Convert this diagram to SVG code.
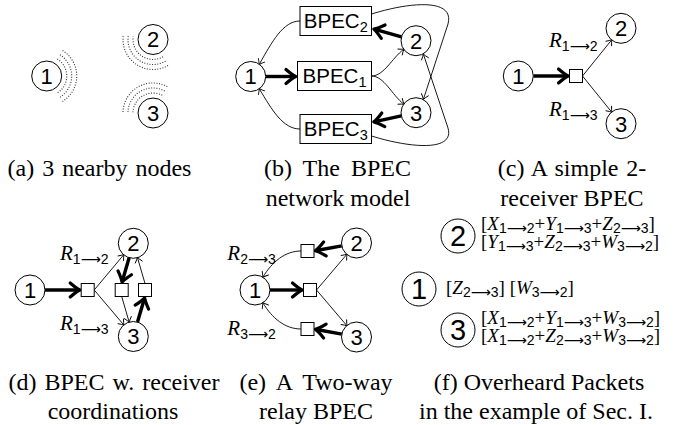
<svg xmlns="http://www.w3.org/2000/svg" width="689" height="425" viewBox="0 0 689 425">
<defs>
<style>
.nc{fill:#fff;stroke:#000;stroke-width:1}
.dg{font-family:"Liberation Sans",Arial,sans-serif;font-size:22px;text-anchor:middle}
.dgf{font-family:"Liberation Sans",Arial,sans-serif;font-size:29px;text-anchor:middle}
.cap{font-family:"Liberation Serif","Times New Roman",serif;font-size:24px;text-anchor:middle}
.thin{fill:none;stroke:#000;stroke-width:0.9;marker-end:url(#ah)}
.thick{fill:none;stroke:#000;stroke-width:3.4;marker-end:url(#ahb)}
.sq{fill:#fff;stroke:#000;stroke-width:1}
.box{fill:#fff;stroke:#000;stroke-width:1}
.bp{font-family:"Liberation Sans",Arial,sans-serif;font-size:20.5px;text-anchor:middle}
.bps{font-size:14.5px}
.dot{fill:none;stroke:#333;stroke-width:1.1;stroke-dasharray:1 1.6}
.lbl{font-family:"Liberation Serif","Times New Roman",serif;font-size:21px;font-style:italic}
.sb{font-family:"Liberation Sans",Arial,sans-serif;font-size:14px;font-style:normal}
.ar{font-family:"DejaVu Sans",sans-serif}
.mt{font-family:"Liberation Serif","Times New Roman",serif;font-size:19px}
.mi{font-style:italic}
.ms{font-family:"Liberation Sans",Arial,sans-serif;font-size:14px;font-style:normal}
</style>
<marker id="ah" markerUnits="userSpaceOnUse" markerWidth="12" markerHeight="12" refX="0" refY="0" orient="auto" overflow="visible">
<path d="M-4.5,-3.6 Q-1.5,-0.9 0.6,0 Q-1.5,0.9 -4.5,3.6" fill="none" stroke="#000" stroke-width="0.9" stroke-linecap="round"/>
</marker>
<marker id="ahb" markerUnits="userSpaceOnUse" markerWidth="20" markerHeight="20" refX="0" refY="0" orient="auto" overflow="visible">
<path d="M-8.5,-7 Q-2.5,-1.8 1.2,0 Q-2.5,1.8 -8.5,7" fill="none" stroke="#000" stroke-width="3.2" stroke-linecap="round" stroke-linejoin="round"/>
</marker>
</defs>
<rect width="689" height="425" fill="#fff"/>

<!-- (a) -->
<g id="a-arcs">
<path class="dot" d="M57.3,59 A20,20 0 0 1 57.3,93"/>
<path class="dot" d="M59.95,54.8 A25,25 0 0 1 59.95,97.2"/>
<path class="dot" d="M62.6,50.56 A30,30 0 0 1 62.6,101.44"/>
<path class="dot" d="M163,56.8 A20,20 0 0 1 133.2,36.7"/>
<path class="dot" d="M165.5,61.2 A25,25 0 0 1 128.25,36"/>
<path class="dot" d="M168,65.5 A30,30 0 0 1 123.3,35.3"/>
<path class="dot" d="M133,112.3 A20,20 0 0 1 163,95.7"/>
<path class="dot" d="M128,112.1 A25,25 0 0 1 165.5,91.35"/>
<path class="dot" d="M123,111.95 A30,30 0 0 1 168,87"/>
</g>
<g id="a-n1"><circle class="nc" cx="46.7" cy="76" r="15"/><text class="dg" x="46.7" y="83.8">1</text></g>
<g id="a-n2"><circle class="nc" cx="153" cy="39.5" r="15"/><text class="dg" x="153" y="47.3">2</text></g>
<g id="a-n3"><circle class="nc" cx="153" cy="113" r="15"/><text class="dg" x="153" y="120.8">3</text></g>
<text class="cap" x="99.5" y="176" word-spacing="2">(a) 3 nearby nodes</text>

<!-- (b) -->
<g id="b-edges">
<path class="thick" d="M266,76.5 L294.5,76.5"/>
<path class="thick" d="M401.5,36.8 L375,29.4"/>
<path class="thick" d="M401.3,115.8 L375,121.6"/>
<path class="thin" d="M371.5,76 C384,76 392,58 403.7,49.3"/>
<path class="thin" d="M371.5,76 C384,76 392,95 403.7,104.1"/>
<path class="thin" d="M300,21 C283,21 272,42 259.3,64.2"/>
<path class="thin" d="M300,129 C283,129 272,110 259.3,88.8"/>
<path class="thin" d="M371.5,14 C410,2 455,-2 448,24 L423.5,99"/>
<path class="thin" d="M371.5,136 C410,148 455,152 448,128 L423.5,54.5"/>
</g>
<g id="b-n1"><circle class="nc" cx="250.7" cy="76.5" r="15"/><text class="dg" x="250.7" y="84.3">1</text></g>
<g id="b-n2"><circle class="nc" cx="416" cy="40.7" r="15"/><text class="dg" x="416" y="48.5">2</text></g>
<g id="b-n3"><circle class="nc" cx="416" cy="112.7" r="15"/><text class="dg" x="416" y="120.5">3</text></g>
<g id="b-bpec2"><rect class="box" x="300" y="6.5" width="71.5" height="29"/><text class="bp" x="335.8" y="28.2">BPEC<tspan class="bps" dy="4">2</tspan></text></g>
<g id="b-bpec1"><rect class="box" x="297.5" y="61.5" width="74" height="29"/><text class="bp" x="334.5" y="83.2">BPEC<tspan class="bps" dy="4">1</tspan></text></g>
<g id="b-bpec3"><rect class="box" x="300" y="114.5" width="71.5" height="29"/><text class="bp" x="335.8" y="136.2">BPEC<tspan class="bps" dy="4">3</tspan></text></g>
<text class="cap" x="337.5" y="176" word-spacing="5">(b) The BPEC</text>
<text class="cap" x="338" y="206">network model</text>

<!-- (c) -->
<g id="c-edges">
<path class="thick" d="M533.5,76 L567,76"/>
<path class="thin" d="M582.5,76 L611.6,40"/>
<path class="thin" d="M582.5,76 L611.6,112"/>
</g>
<g id="c-n1"><circle class="nc" cx="518.3" cy="76" r="15"/><text class="dg" x="518.3" y="83.8">1</text></g>
<g id="c-n2"><circle class="nc" cx="621" cy="28.3" r="15"/><text class="dg" x="621" y="36.1">2</text></g>
<g id="c-n3"><circle class="nc" cx="621" cy="123.7" r="15"/><text class="dg" x="621" y="131.5">3</text></g>
<g id="c-sq"><rect class="sq" x="569.5" y="69.5" width="13" height="13"/></g>
<text class="lbl" x="549" y="46.5">R<tspan class="sb" dy="4">1<tspan class="ar">⟶</tspan>2</tspan></text>
<text class="lbl" x="549" y="116">R<tspan class="sb" dy="4">1<tspan class="ar">⟶</tspan>3</tspan></text>
<text class="cap" x="572" y="176" word-spacing="1.7">(c) A simple 2-</text>
<text class="cap" x="572" y="206">receiver BPEC</text>

<!-- (d) -->
<g id="d-edges">
<path class="thick" d="M45,290 L78.7,290"/>
<path class="thin" d="M94.2,290 L123.7,254.8"/>
<path class="thin" d="M94.2,290 L123.7,324.8"/>
<path class="thick" d="M129.1,257.7 L122.4,281"/>
<path class="thin" d="M121.7,296.5 L129.1,321.9"/>
<path class="thick" d="M137.5,321.9 L144.3,299"/>
<path class="thin" d="M145,283.5 L137.5,257.7"/>
</g>
<g id="d-n1"><circle class="nc" cx="30" cy="290" r="15"/><text class="dg" x="30" y="297.8">1</text></g>
<g id="d-n2"><circle class="nc" cx="133.3" cy="243.3" r="15"/><text class="dg" x="133.3" y="251.1">2</text></g>
<g id="d-n3"><circle class="nc" cx="133.3" cy="336.5" r="15"/><text class="dg" x="133.3" y="344.3">3</text></g>
<g id="d-sq1"><rect class="sq" x="81.2" y="283.5" width="13" height="13"/></g>
<g id="d-sq2"><rect class="sq" x="115.2" y="283.5" width="13" height="13"/></g>
<g id="d-sq3"><rect class="sq" x="138.5" y="283.5" width="13" height="13"/></g>
<text class="lbl" x="60" y="260">R<tspan class="sb" dy="4">1<tspan class="ar">⟶</tspan>2</tspan></text>
<text class="lbl" x="60" y="330">R<tspan class="sb" dy="4">1<tspan class="ar">⟶</tspan>3</tspan></text>
<text class="cap" x="114" y="390" word-spacing="2">(d) BPEC w. receiver</text>
<text class="cap" x="113" y="419">coordinations</text>

<!-- (e) -->
<g id="e-edges">
<path class="thick" d="M270,290 L301,290"/>
<path class="thin" d="M316.5,290 L346.8,254.4"/>
<path class="thin" d="M316.5,290 L346.8,325.6"/>
<path class="thick" d="M341.8,245.8 L316.5,250.5"/>
<path class="thick" d="M341.8,334.2 L316.5,329.5"/>
<path class="thin" d="M301,251 C285,251 272,262 263,277"/>
<path class="thin" d="M301,329 C285,329 272,318 263,303"/>
</g>
<g id="e-n1"><circle class="nc" cx="255" cy="290" r="15"/><text class="dg" x="255" y="297.8">1</text></g>
<g id="e-n2"><circle class="nc" cx="356.5" cy="243" r="15"/><text class="dg" x="356.5" y="250.8">2</text></g>
<g id="e-n3"><circle class="nc" cx="356.5" cy="337" r="15"/><text class="dg" x="356.5" y="344.8">3</text></g>
<g id="e-sqm"><rect class="sq" x="303.5" y="283.5" width="13" height="13"/></g>
<g id="e-sqt"><rect class="sq" x="301" y="244.5" width="13" height="13"/></g>
<g id="e-sqb"><rect class="sq" x="301" y="322.5" width="13" height="13"/></g>
<text class="lbl" x="227.3" y="260">R<tspan class="sb" dy="4">2<tspan class="ar">⟶</tspan>3</tspan></text>
<text class="lbl" x="227.3" y="335">R<tspan class="sb" dy="4">3<tspan class="ar">⟶</tspan>2</tspan></text>
<text class="cap" x="316" y="390" word-spacing="5">(e) A Two-way</text>
<text class="cap" x="316" y="419">relay BPEC</text>

<!-- (f) -->
<g id="f-n2"><circle class="nc" cx="458" cy="236" r="17"/><text class="dgf" x="458" y="246.3">2</text></g>
<g id="f-n1"><circle class="nc" cx="419" cy="289" r="17"/><text class="dgf" x="419" y="299.3">1</text></g>
<g id="f-n3"><circle class="nc" cx="458" cy="330" r="17"/><text class="dgf" x="458" y="340.3">3</text></g>
<text class="mt" x="481" y="230">[<tspan class="mi">X</tspan><tspan class="ms" dy="3">1<tspan class="ar">⟶</tspan>2</tspan><tspan dy="-3">+</tspan><tspan class="mi">Y</tspan><tspan class="ms" dy="3">1<tspan class="ar">⟶</tspan>3</tspan><tspan dy="-3">+</tspan><tspan class="mi">Z</tspan><tspan class="ms" dy="3">2<tspan class="ar">⟶</tspan>3</tspan><tspan dy="-3">]</tspan></text>
<text class="mt" x="481" y="248">[<tspan class="mi">Y</tspan><tspan class="ms" dy="3">1<tspan class="ar">⟶</tspan>3</tspan><tspan dy="-3">+</tspan><tspan class="mi">Z</tspan><tspan class="ms" dy="3">2<tspan class="ar">⟶</tspan>3</tspan><tspan dy="-3">+</tspan><tspan class="mi">W</tspan><tspan class="ms" dy="3">3<tspan class="ar">⟶</tspan>2</tspan><tspan dy="-3">]</tspan></text>
<text class="mt" x="446" y="294">[<tspan class="mi">Z</tspan><tspan class="ms" dy="3">2<tspan class="ar">⟶</tspan>3</tspan><tspan dy="-3">] [</tspan><tspan class="mi">W</tspan><tspan class="ms" dy="3">3<tspan class="ar">⟶</tspan>2</tspan><tspan dy="-3">]</tspan></text>
<text class="mt" x="481" y="324">[<tspan class="mi">X</tspan><tspan class="ms" dy="3">1<tspan class="ar">⟶</tspan>2</tspan><tspan dy="-3">+</tspan><tspan class="mi">Y</tspan><tspan class="ms" dy="3">1<tspan class="ar">⟶</tspan>3</tspan><tspan dy="-3">+</tspan><tspan class="mi">W</tspan><tspan class="ms" dy="3">3<tspan class="ar">⟶</tspan>2</tspan><tspan dy="-3">]</tspan></text>
<text class="mt" x="481" y="342">[<tspan class="mi">X</tspan><tspan class="ms" dy="3">1<tspan class="ar">⟶</tspan>2</tspan><tspan dy="-3">+</tspan><tspan class="mi">Z</tspan><tspan class="ms" dy="3">2<tspan class="ar">⟶</tspan>3</tspan><tspan dy="-3">+</tspan><tspan class="mi">W</tspan><tspan class="ms" dy="3">3<tspan class="ar">⟶</tspan>2</tspan><tspan dy="-3">]</tspan></text>
<text class="cap" x="539" y="390">(f) Overheard Packets</text>
<text class="cap" x="536" y="419">in the example of Sec. I.</text>
</svg>
